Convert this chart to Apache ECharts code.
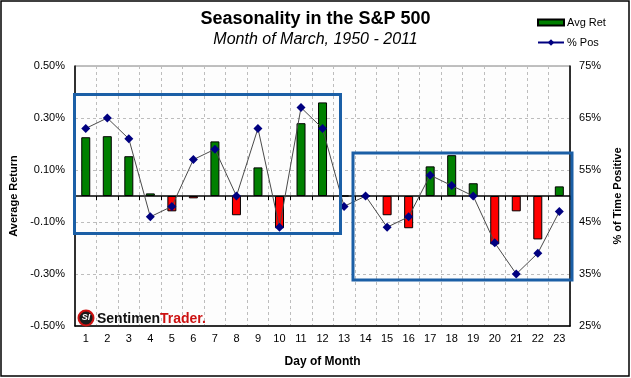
<!DOCTYPE html>
<html><head><meta charset="utf-8">
<script src="https://cdn.jsdelivr.net/npm/echarts@6/dist/echarts.min.js"></script>
<style>html,body{margin:0;padding:0;background:#fff}#c{width:631px;height:378px}</style>
</head><body><div id="c"></div>
<script>
var days = ['1','2','3','4','5','6','7','8','9','10','11','12','13','14','15','16','17','18','19','20','21','22','23'];
var avgRet = [0.226,0.230,0.153,0.010,-0.059,-0.009,0.210,-0.074,0.110,-0.124,0.280,0.360,0,0,-0.074,-0.124,0.114,0.157,0.049,-0.186,-0.059,-0.167,0.037];
var pctPos = [63,65,61,46,48,57,59,50,63,44,67,63,48,50,44,46,54,52,50,41,35,39,47];
var leftTicks = {min:-0.5, max:0.5, interval:0.2};
var rightTicks = {min:25, max:75, interval:10};

var FONT = '"Liberation Sans", Arial, sans-serif';
var chart = echarts.init(document.getElementById('c'), null, {renderer:'canvas'});
chart.setOption({
  backgroundColor:'#ffffff',
  animation:false,
  textStyle:{fontFamily:FONT},
  title:[
    {text:'Seasonality in the S&P 500', left:'center', top:5, textStyle:{fontSize:18, fontWeight:'bold', color:'#000', fontFamily:FONT}, itemGap:4,
     subtext:'Month of March, 1950 - 2011', subtextStyle:{fontSize:16, fontStyle:'italic', color:'#000', fontFamily:FONT}}
  ],
  legend:[
    {data:[{name:'Avg Ret', icon:'rect'}], left:537, top:17, padding:0, itemWidth:26, itemHeight:6, itemGap:0, textStyle:{fontSize:11, color:'#000', fontFamily:FONT, padding:[0,0,0,-2]}},
    {data:[{name:'% Pos', lineStyle:{color:'#000080'}}], left:537, top:37, padding:0, itemWidth:26, itemHeight:8, itemGap:0, textStyle:{fontSize:11, color:'#000', fontFamily:FONT, padding:[0,0,0,-2]}}
  ],
  grid:{left:73, right:57, top:66, bottom:52, show:true, borderColor:'#808080', borderWidth:1, backgroundColor:'#fdfdfd'},
  xAxis:[
    {type:'category', data:days, position:'bottom', boundaryGap:true,
     axisLine:{onZero:false, lineStyle:{color:'#000', width:1.5}},
     axisTick:{show:false},
     axisLabel:{fontSize:11, color:'#000', margin:7},
     splitLine:{show:true, lineStyle:{type:[3,3], color:'#bdbdbd'}},
     name:'Day of Month', nameLocation:'middle', nameGap:30,
     nameTextStyle:{fontSize:12, fontWeight:'bold', color:'#000'}},
    {type:'category', data:days, position:'bottom', boundaryGap:true,
     axisLine:{onZero:true, onZeroAxisIndex:0, lineStyle:{color:'#000', width:1.5}},
     axisTick:{show:true, length:4, inside:false, lineStyle:{color:'#000'}},
     axisLabel:{show:false}, splitLine:{show:false}}
  ],
  yAxis:[
    {type:'value', min:leftTicks.min, max:leftTicks.max, interval:leftTicks.interval, position:'left',
     axisLine:{show:true, lineStyle:{color:'#000', width:1.5}},
     axisTick:{show:false},
     axisLabel:{fontSize:11, color:'#000', margin:10, formatter:function(v){return v.toFixed(2)+'%';}},
     splitLine:{show:true, lineStyle:{type:[3,3], color:'#bdbdbd'}},
     name:'Average Return', nameLocation:'middle', nameGap:56, nameRotate:90,
     nameTextStyle:{fontSize:11, fontWeight:'bold', color:'#000'}},
    {type:'value', min:rightTicks.min, max:rightTicks.max, interval:rightTicks.interval, position:'right',
     axisLine:{show:true, lineStyle:{color:'#000', width:1.5}},
     axisTick:{show:false},
     axisLabel:{fontSize:11, color:'#000', margin:9, formatter:function(v){return Math.round(v)+'%';}},
     splitLine:{show:false},
     name:'% of Time Positive', nameLocation:'middle', nameGap:38, nameRotate:90,
     nameTextStyle:{fontSize:11, fontWeight:'bold', color:'#000'}}
  ],
  series:[
    {name:'Avg Ret', type:'bar', xAxisIndex:0, yAxisIndex:0, barWidth:9,
     itemStyle:{color:'#008000', borderColor:'#000', borderWidth:1},
     data:avgRet.map(function(v){return {value:v, itemStyle:{color: v>=0?'#008000':'#ff0000'}};})},
    {name:'% Pos', type:'line', xAxisIndex:0, yAxisIndex:1, symbol:'diamond', symbolSize:9,
     lineStyle:{color:'#4a4a4a', width:1}, itemStyle:{color:'#000080'},
     data:pctPos}
  ],
  graphic:[
    {type:'rect', shape:{x:1, y:1, width:628, height:375}, style:{fill:'none', stroke:'#000', lineWidth:1.5}, z:100},
    {type:'rect', shape:{x:74.5, y:94.5, width:266, height:139}, style:{fill:'none', stroke:'#1b5fa6', lineWidth:3}, z:50},
    {type:'rect', shape:{x:353, y:153, width:219, height:127}, style:{fill:'none', stroke:'#1b5fa6', lineWidth:3}, z:50},
    {type:'circle', z:60, shape:{cx:86, cy:318, r:7.5}, style:{fill:'#1a1a1a', stroke:'#cc1111', lineWidth:2}},
    {type:'text', z:61, style:{x:86, y:318, text:'SI', fill:'#fff', font:'italic bold 9px '+FONT, textAlign:'center', textVerticalAlign:'middle'}},
    {type:'text', z:61, style:{x:160, y:319, text:'Sentimen', fill:'#111', font:'bold 14px '+FONT, textAlign:'right', textVerticalAlign:'middle'}},
    {type:'text', z:61, style:{x:160, y:319, text:'Trader.', fill:'#cc1111', font:'bold 14px '+FONT, textAlign:'left', textVerticalAlign:'middle'}}
  ]
});
</script></body></html>
